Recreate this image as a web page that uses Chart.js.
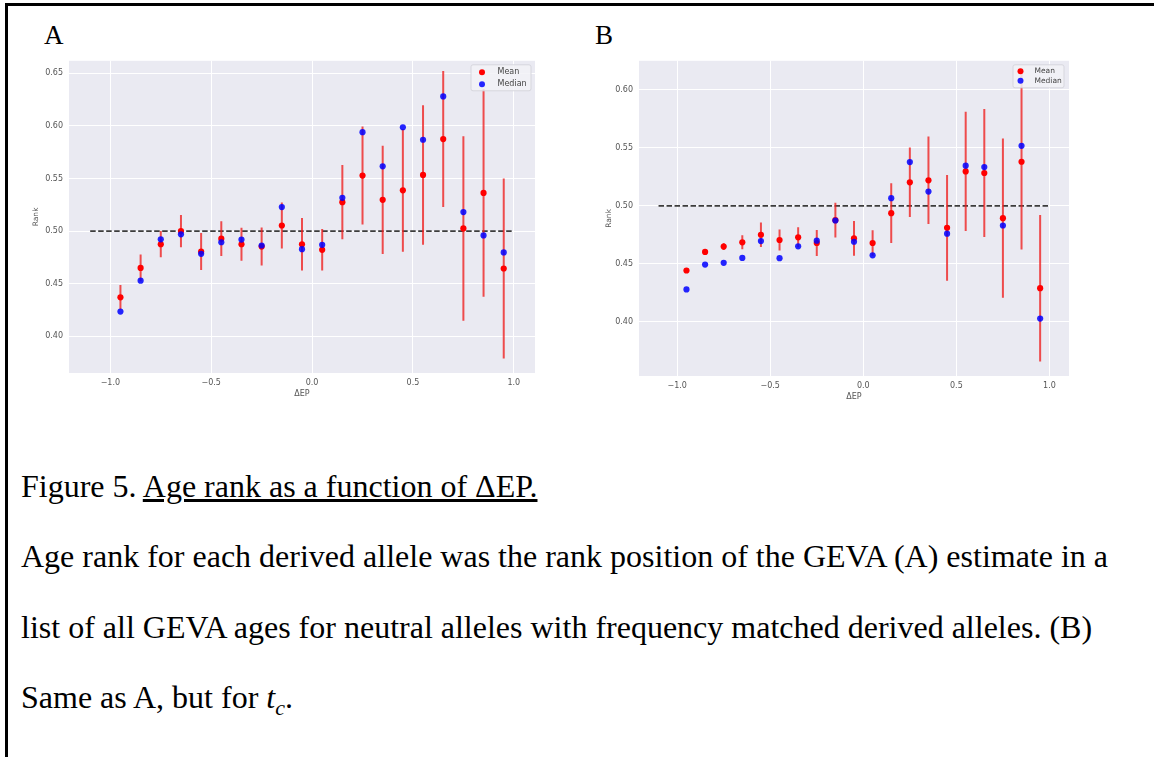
<!DOCTYPE html>
<html>
<head>
  <meta charset="UTF-8">
  <title>Figure 5 - Age rank vs ΔEP</title>
  <script src="https://cdn.jsdelivr.net/npm/chart.js@4.4.1/dist/chart.umd.min.js"></script>
  <style>
    body {
      margin: 0;
      background: #fff;
      width: 1154px;
      height: 757px;
      overflow: hidden;
      position: relative;
    }
    .frame {
      position: absolute;
      left: 5px;
      top: 3px;
      width: 1300px;
      height: 900px;
      border-left: 3px solid #000;
      border-top: 3px solid #000;
    }
    .tag, .cap {
      position: absolute;
      font-family: "Liberation Serif", "Times New Roman", serif;
      color: #000;
      white-space: nowrap;
    }
    .tag { font-size: 27px; line-height: 27px; }
    .cap { left: 21px; font-size: 32px; line-height: 32px; }
    .panel { position: absolute; top: 50px; height: 360px; }
    .panel canvas { filter: blur(0.45px); }
  </style>
</head>
<body>
  <div class="frame"></div>
  <div class="tag" style="left:44px; top:22px;">A</div>
  <div class="tag" style="left:595px; top:22px;">B</div>

  <div class="panel" style="left:20px; width:525px;"><canvas id="chartA"></canvas></div>
  <div class="panel" style="left:590px; width:490px;"><canvas id="chartB"></canvas></div>

  <div class="cap" style="top:470px;">Figure 5. <u>Age rank as a function of ΔEP.</u></div>
  <div class="cap" style="top:540px;">Age rank for each derived allele was the rank position of the GEVA (A) estimate in a</div>
  <div class="cap" style="top:611px;">list of all GEVA ages for neutral alleles with frequency matched derived alleles. (B)</div>
  <div class="cap" style="top:681px;">Same as A, but for <i>t</i><sub style="font-size:22px;"><i>c</i></sub>.</div>

  <script>
    // ΔEP bin centres shared by both panels
    const binCenters = [-0.95, -0.85, -0.75, -0.65, -0.55, -0.45, -0.35, -0.25, -0.15, -0.05,
                        0.05, 0.15, 0.25, 0.35, 0.45, 0.55, 0.65, 0.75, 0.85, 0.95];

    // Panel A: GEVA age rank
    const meanA   = [0.437, 0.465, 0.4875, 0.500, 0.4806, 0.4928, 0.4875, 0.4853, 0.5053, 0.4875,
                     0.4822, 0.5275, 0.5528, 0.5297, 0.5388, 0.5534, 0.5875, 0.5025, 0.5363, 0.4644];
    const errA    = [0.0116, 0.0128, 0.0125, 0.0153, 0.0175, 0.0166, 0.0156, 0.0181, 0.0219, 0.025,
                     0.0197, 0.0353, 0.0466, 0.0516, 0.0584, 0.0663, 0.0647, 0.0878, 0.0988, 0.0856];
    const medianA = [0.4234, 0.4528, 0.4922, 0.4969, 0.4784, 0.4894, 0.4919, 0.4863, 0.5228, 0.4828,
                     0.4869, 0.5316, 0.5941, 0.5616, 0.5988, 0.5869, 0.6281, 0.5181, 0.4959, 0.4797];

    // Panel B: t_c age rank
    const meanB   = [0.4443, 0.4603, 0.4649, 0.4686, 0.4751, 0.4706, 0.4729, 0.4680, 0.4877, 0.4720,
                     0.4680, 0.4937, 0.5203, 0.5220, 0.4811, 0.5297, 0.5283, 0.4894, 0.538, 0.4291];
    const errB    = [0.002, 0.002, 0.003, 0.006, 0.0106, 0.0091, 0.0086, 0.0111, 0.0149, 0.0149,
                     0.0109, 0.0257, 0.030, 0.0377, 0.0456, 0.0514, 0.0552, 0.0686, 0.0757, 0.0631];
    const medianB = [0.4280, 0.4494, 0.4509, 0.4551, 0.4697, 0.4549, 0.4651, 0.4700, 0.4874, 0.4691,
                     0.4574, 0.5066, 0.5377, 0.5123, 0.4760, 0.5346, 0.5334, 0.4831, 0.5517, 0.4029];

    const xTicks  = [-1.0, -0.5, 0.0, 0.5, 1.0];
    const yTicksA = [0.40, 0.45, 0.50, 0.55, 0.60, 0.65];
    const yTicksB = [0.40, 0.45, 0.50, 0.55, 0.60];
    const refLineX = [-1.1, 1.0];
    const refLineY = 0.5;

    Chart.defaults.font.family = "'DejaVu Sans', sans-serif";
    Chart.defaults.color = '#555';

    // grey axes background, seaborn style
    const panelBg = {
      id: 'panelBg',
      beforeDraw(chart) {
        const { ctx, chartArea: a } = chart;
        ctx.save();
        ctx.fillStyle = '#eaeaf2';
        ctx.fillRect(a.left, a.top, a.width, a.height);
        ctx.restore();
      }
    };

    // legend box drawn inside the axes, top right
    const insetLegend = {
      id: 'insetLegend',
      afterDatasetsDraw(chart, args, opts) {
        const { ctx, chartArea: a } = chart;
        const items = chart.data.datasets.filter(d => d.inLegend);
        const x = a.right - opts.right - opts.width;
        const y = a.top + opts.top;
        ctx.save();
        ctx.beginPath();
        ctx.roundRect(x, y, opts.width, opts.height, 2);
        ctx.fillStyle = 'rgba(242,242,247,0.85)';
        ctx.fill();
        ctx.strokeStyle = '#d6d6dd';
        ctx.lineWidth = 1;
        ctx.stroke();
        ctx.font = opts.fontSize + "px 'DejaVu Sans'";
        ctx.textBaseline = 'middle';
        items.forEach((d, i) => {
          const cy = y + opts.rowTop + i * opts.rowGap;
          ctx.beginPath();
          ctx.arc(x + opts.dotX, cy, 3, 0, Math.PI * 2);
          ctx.fillStyle = d.backgroundColor;
          ctx.fill();
          ctx.fillStyle = '#444';
          ctx.fillText(d.label, x + opts.textX, cy);
        });
        ctx.restore();
      }
    };

    function makeChart(id, mean, err, median, yTicks, yRange, geom) {
      const errData = binCenters.flatMap((x, i) => [
        { x: x, y: mean[i] - err[i] },
        { x: x, y: mean[i] + err[i] },
        { x: x, y: null }
      ]);
      return new Chart(document.getElementById(id), {
        type: 'scatter',
        data: {
          datasets: [
            {
              label: 'Mean', inLegend: true, order: 1,
              data: binCenters.map((x, i) => ({ x: x, y: mean[i] })),
              backgroundColor: '#ff0000', borderColor: '#ff0000',
              pointRadius: 3.1, pointBorderWidth: 0
            },
            {
              label: 'Median', inLegend: true, order: 0,
              data: binCenters.map((x, i) => ({ x: x, y: median[i] })),
              backgroundColor: 'rgba(0,0,255,0.85)', borderColor: 'rgba(0,0,255,0.85)',
              pointRadius: 3.1, pointBorderWidth: 0
            },
            {
              label: 'err', order: 2, data: errData, showLine: true, spanGaps: false,
              borderColor: 'rgba(238,30,30,0.78)', borderWidth: 2, pointRadius: 0
            },
            {
              label: 'ref', order: 3, showLine: true,
              data: refLineX.map(x => ({ x: x, y: refLineY })),
              borderColor: '#3c3c3c', borderWidth: 1.8, borderDash: [5.5, 2.5], pointRadius: 0
            }
          ]
        },
        options: {
          responsive: true,
          maintainAspectRatio: false,
          animation: false,
          devicePixelRatio: 1,
          layout: { padding: { left: 0, top: geom.padTop, right: geom.padRight, bottom: 0 } },
          plugins: {
            legend: { display: false },
            tooltip: { enabled: false },
            insetLegend: geom.legend
          },
          scales: {
            x: {
              type: 'linear', min: -1.205, max: 1.105,
              afterBuildTicks: s => { s.ticks = xTicks.map(v => ({ value: v })); },
              afterFit: s => { s.height = geom.xHeight; },
              grid: { color: '#ffffff', lineWidth: 1, drawTicks: false },
              border: { display: false },
              ticks: {
                padding: 5, font: { size: 8 },
                callback: v => (v < 0 ? '\u2212' : '') + Math.abs(v).toFixed(1)
              },
              title: { display: true, text: 'ΔEP', font: { size: 8 }, padding: { top: 0, bottom: geom.xTitlePad } }
            },
            y: {
              type: 'linear', min: yRange[0], max: yRange[1],
              afterBuildTicks: s => { s.ticks = yTicks.map(v => ({ value: v })); },
              afterFit: s => { s.width = 49; },
              grid: { color: '#ffffff', lineWidth: 1, drawTicks: false },
              border: { display: false },
              ticks: { padding: 6, font: { size: 8 }, callback: v => v.toFixed(2) },
              title: { display: true, text: 'Rank', font: { size: 7.5 }, padding: { top: geom.yTitlePad, bottom: 0 } }
            }
          }
        },
        plugins: [panelBg, insetLegend]
      });
    }

    makeChart('chartA', meanA, errA, medianA, yTicksA, [0.365, 0.662], {
      padTop: 6, padRight: 10, xHeight: 37, xTitlePad: 11, yTitlePad: 12,
      legend: { right: 4, top: 4, width: 60, height: 26, rowTop: 7.5, rowGap: 12,
                dotX: 11, textX: 26.5, fontSize: 8 }
    });

    makeChart('chartB', meanB, errB, medianB, yTicksB, [0.3534, 0.625], {
      padTop: 9, padRight: 11, xHeight: 34, xTitlePad: 8.5, yTitlePad: 15,
      legend: { right: 5, top: 4, width: 51, height: 23, rowTop: 6.5, rowGap: 9.5,
                dotX: 7.5, textX: 21.5, fontSize: 7.5 }
    });
  </script>
</body>
</html>
